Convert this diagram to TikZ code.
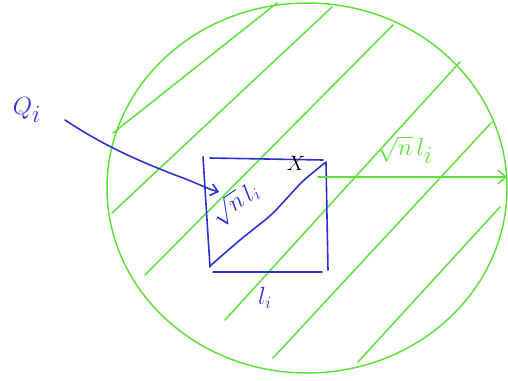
\documentclass[tikz,border=0pt]{standalone}
\usetikzlibrary{arrows.meta}
\definecolor{pgreen}{RGB}{95,225,60}
\definecolor{pblue}{RGB}{45,50,205}
\tikzset{
  gline/.style={draw=pgreen, line width=1.5pt, line cap=round, line join=round},
  bline/.style={draw=pblue, line width=1.6pt, line cap=round, line join=round},
  glabel/.style={text=pgreen, font=\fontsize{34}{36}\selectfont},
  blabel/.style={text=pblue, font=\fontsize{26}{28}\selectfont},
}
\begin{document}
\begin{tikzpicture}[x=1pt,y=-1pt]
\useasboundingbox (0,0) rectangle (508,380);
% big circle
\draw[gline] (307,188) ellipse [x radius=200, y radius=185];
% hatch lines
\draw[gline] (113,133) -- (277,3);
\draw[gline] (112,213) -- (332,7);
\draw[gline] (145,275) -- (393,25);
\draw[gline] (225,320) -- (460,62);
\draw[gline] (273,358) -- (492,122);
\draw[gline] (358,362) -- (500,207);
% square
\coordinate (tr) at (326,162);
\coordinate (bl) at (210,266);
\draw[bline] (203,157) -- (210,267);
\draw[bline] (210,158) -- (323,160);
\draw[bline] (326,163) -- (328,270);
\draw[bline] (213,272) -- (322,272);
\draw[bline] plot[smooth, tension=0.4] coordinates {(bl) (240,240) (272,214) (302,182) (tr)};
% green arrow
\coordinate (gs) at (318,177);
\coordinate (ge) at (507,177);
\draw[gline, -{Straight Barb[length=8pt,width=14pt]}] (gs) -- (ge);
% Q_i arrow
\node[blabel, font=\fontsize{44}{46}\selectfont] (Q) at (27,110) {$Q_{i}$};
\coordinate (qs) at (65,120);
\coordinate (qe) at (219,192);
\draw[bline, -{Straight Barb[length=7pt,width=12pt]}] (qs) .. controls (110,150) and (150,165) .. (175,175) .. controls (195,182) and (205,188) .. (qe);
% labels
\node[blabel, rotate=35, font=\fontsize{23}{25}\selectfont] (d) at (235,204) {$\sqrt{n}\,l_i$};
\node[glabel] (g) at (405,150) {$\sqrt{n}\,l_i$};
\node[blabel] (li) at (265,298) {$l_i$};
\node[font=\fontsize{22}{24}\selectfont] (x) at (296,163) {$X$};
\end{tikzpicture}
\end{document}
